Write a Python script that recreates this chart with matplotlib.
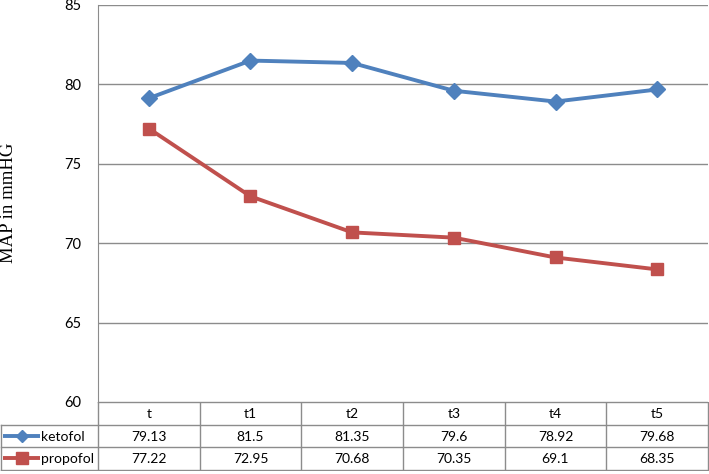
import numpy as np
import matplotlib.pyplot as plt

times = ["t", "t1", "t2", "t3", "t4", "t5"]
ketofol = [79.13, 81.5, 81.35, 79.6, 78.92, 79.68]
propofol = [77.22, 72.95, 70.68, 70.35, 69.1, 68.35]
series_names = ["ketofol", "propofol"]
y_ticks = [60, 65, 70, 75, 80, 85]

blue = "#4F81BD"
red = "#C0504D"
grid_col = "#8C8C8C"
font = "Lato"
fs = 10

W, H = 709, 474
fig = plt.figure(figsize=(W / 100, H / 100), dpi=100)

# main plot area (pixels: x 98..708, y 5..402)
ax = fig.add_axes([98 / W, 1 - 402 / H, 610 / W, 397 / H])
x = np.arange(len(times))
ax.plot(x, ketofol, color=blue, lw=2.8, marker="D", ms=8.5, zorder=3)
ax.plot(x, propofol, color=red, lw=2.8, marker="s", ms=8.5, zorder=3)
ax.set_xlim(-0.5, len(times) - 0.5)
ax.set_ylim(60, 85)
ax.set_yticks(y_ticks)
ax.set_xticks([])
ax.yaxis.grid(True, color=grid_col, lw=1.0)
ax.set_axisbelow(True)
for s in ["top", "right", "bottom"]:
    ax.spines[s].set_visible(False)
ax.spines["left"].set_color(grid_col)
ax.tick_params(axis="y", length=0, pad=12)
for lab in ax.get_yticklabels():
    lab.set_fontfamily(font)
    lab.set_fontsize(fs + 0.5)

fig.text(9 / W, 1 - 203 / H, "MAP in mmHG", rotation=90, ha="center", va="center",
         family="Liberation Serif", fontsize=13.5)

# data table under the plot, drawn in pixel units
tab = fig.add_axes([0, 1 - 471 / H, 709 / W, 69 / H])
tab.set_xlim(0, 709)
tab.set_ylim(471, 402)
tab.axis("off")
row_edges = [402, 424.5, 447, 469.5]
left, right = 98, 708
col_w = (right - left) / len(times)
col_edges = [left + i * col_w for i in range(len(times) + 1)]

lc = dict(color=grid_col, lw=1.0)
# horizontal lines
tab.plot([left, right], [row_edges[0]] * 2, **lc)
for r in row_edges[1:]:
    tab.plot([0.5, right], [r, r], **lc)
# vertical lines
for c in col_edges:
    tab.plot([c, c], [row_edges[0], row_edges[-1]], **lc)
tab.plot([0.5, 0.5], [row_edges[1], row_edges[-1]], **lc)

def mid(a, b):
    return (a + b) / 2

for i, t in enumerate(times):
    tab.text(mid(col_edges[i], col_edges[i + 1]), mid(row_edges[0], row_edges[1]) + 1, t,
             ha="center", va="center", family=font, fontsize=fs)
    for j, vals in enumerate([ketofol, propofol]):
        tab.text(mid(col_edges[i], col_edges[i + 1]), mid(row_edges[j + 1], row_edges[j + 2]) + 1,
                 f"{vals[i]:g}", ha="center", va="center", family=font, fontsize=fs)

# legend keys in the first column
for j, (name, col, mk) in enumerate(zip(series_names, [blue, red], ["D", "s"])):
    yc = mid(row_edges[j + 1], row_edges[j + 2])
    tab.plot([3, 40], [yc, yc], color=col, lw=2.8, solid_capstyle="butt")
    tab.plot([21.5], [yc], color=col, marker=mk, ms=6.5 if mk == "D" else 8)
    tab.text(41, yc + 1, name, ha="left", va="center", family=font, fontsize=fs)

fig.savefig("out.png", dpi=100)
